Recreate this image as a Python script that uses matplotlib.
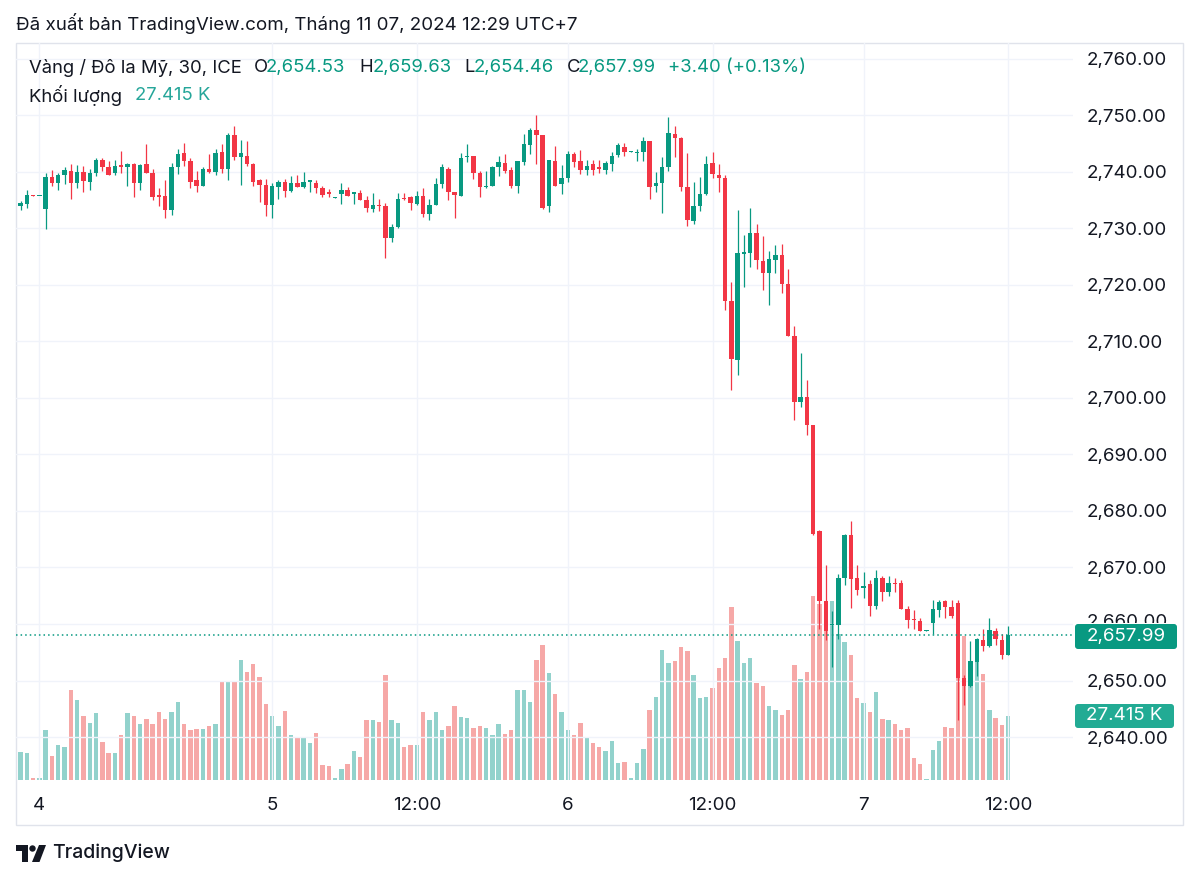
import matplotlib.pyplot as plt
import numpy as np
from matplotlib.patches import FancyBboxPatch, Polygon, Circle, Rectangle
from matplotlib.transforms import Bbox

plt.rcParams['font.family'] = ['Inter', 'DejaVu Sans']

# XAUUSD 30 min bars, index 0 = first bar under the "4" label
bar_idx = np.arange(-4, 155)
opens = [2733.9, 2733.9, 2734.4, 2735.9, 2735.7, 2733.4, 2739.2, 2738.1, 2739.5, 2740.2,
         2738.0, 2740.0, 2738.2, 2739.8, 2742.1, 2740.9, 2739.8, 2741.2, 2740.9, 2741.5,
         2738.1, 2741.4, 2739.9, 2736.0, 2735.8, 2733.3, 2740.9, 2743.3, 2741.9, 2738.6,
         2737.6, 2740.5, 2740.0, 2743.5, 2740.5, 2746.6, 2742.7, 2742.9, 2741.5, 2738.5,
         2737.7, 2734.1, 2737.4, 2738.3, 2736.6, 2738.1, 2737.4, 2738.3, 2738.1, 2737.2,
         2736.5, 2735.4, 2736.1, 2736.8, 2736.1, 2736.3, 2735.1, 2733.5, 2734.2, 2734.0,
         2728.4, 2730.2, 2735.4, 2735.5, 2734.4, 2735.8, 2732.5, 2734.2, 2737.8, 2740.6,
         2736.4, 2735.7, 2742.7, 2742.8, 2739.9, 2737.4, 2737.6, 2740.8, 2741.6, 2740.4,
         2737.6, 2741.8, 2744.7, 2747.4, 2746.5, 2733.9, 2742.0, 2737.8, 2738.9, 2743.2,
         2741.9, 2740.3, 2741.4, 2740.8, 2740.3, 2741.5, 2743.0, 2744.4, 2743.6, 2743.3,
         2743.6, 2745.5, 2737.5, 2738.0, 2740.9, 2746.8, 2746.1, 2737.4, 2731.4, 2734.0,
         2736.1, 2741.6, 2739.4, 2739.0, 2717.1, 2706.8, 2725.5, 2725.6, 2729.2, 2724.3,
         2722.2, 2724.5, 2725.3, 2720.2, 2710.9, 2699.3, 2700.2, 2695.2, 2676.4, 2664.1,
         2659.9, 2659.8, 2668.2, 2675.8, 2668.1, 2666.3, 2667.0, 2663.2, 2668.2, 2665.6,
         2667.3, 2667.3, 2662.6, 2660.9, 2660.5, 2658.8, 2660.1, 2662.4, 2664.0, 2663.0,
         2663.8, 2650.5, 2649.0, 2653.3, 2657.2, 2656.1, 2658.8, 2657.2, 2654.53]
highs = [2734.5, 2734.9, 2736.8, 2735.9, 2735.8, 2739.8, 2740.3, 2739.9, 2740.9, 2741.4,
         2741.2, 2741.1, 2740.5, 2742.4, 2742.5, 2741.9, 2742.1, 2743.7, 2741.6, 2741.6,
         2741.4, 2744.9, 2740.5, 2737.2, 2738.6, 2741.6, 2744.1, 2745.2, 2742.4, 2740.2,
         2740.8, 2743.1, 2744.0, 2744.9, 2746.9, 2748.2, 2745.6, 2745.5, 2741.6, 2738.8,
         2738.7, 2738.0, 2738.5, 2738.7, 2739.3, 2739.4, 2740.0, 2738.6, 2738.6, 2737.6,
         2737.0, 2735.5, 2738.0, 2737.3, 2736.5, 2736.8, 2735.8, 2736.2, 2735.3, 2734.6,
         2730.8, 2736.2, 2736.2, 2735.8, 2736.6, 2737.2, 2735.3, 2739.0, 2741.4, 2740.8,
         2736.4, 2743.3, 2745.0, 2742.9, 2740.2, 2740.2, 2741.1, 2742.9, 2743.1, 2740.8,
         2741.9, 2746.8, 2747.8, 2750.0, 2746.5, 2742.2, 2744.6, 2741.2, 2743.7, 2743.5,
         2743.9, 2742.1, 2742.2, 2742.1, 2741.9, 2743.5, 2745.1, 2745.1, 2743.8, 2744.1,
         2746.2, 2745.5, 2740.0, 2742.7, 2749.7, 2748.2, 2746.2, 2743.4, 2738.2, 2739.2,
         2742.9, 2743.5, 2741.4, 2739.4, 2720.6, 2733.2, 2728.8, 2733.7, 2730.8, 2728.6,
         2726.1, 2727.1, 2727.2, 2722.8, 2712.7, 2708.0, 2703.1, 2695.2, 2676.6, 2670.5,
         2662.3, 2668.8, 2676.0, 2678.3, 2670.5, 2669.2, 2667.8, 2669.5, 2668.5, 2668.5,
         2668.2, 2667.8, 2663.2, 2662.4, 2661.0, 2658.9, 2664.2, 2664.2, 2664.2, 2664.2,
         2664.2, 2651.0, 2657.0, 2657.5, 2659.2, 2661.0, 2659.3, 2658.3, 2659.63]
lows = [2733.6, 2733.3, 2733.6, 2735.8, 2735.7, 2729.9, 2737.6, 2736.8, 2737.8, 2735.2,
        2737.2, 2736.5, 2736.9, 2739.3, 2740.2, 2739.5, 2739.5, 2739.9, 2737.6, 2735.6,
        2736.9, 2739.8, 2735.1, 2733.9, 2731.8, 2732.4, 2739.6, 2741.1, 2737.2, 2736.4,
        2737.6, 2739.8, 2739.4, 2739.8, 2738.6, 2742.1, 2737.7, 2741.1, 2737.6, 2734.7,
        2732.2, 2731.8, 2735.2, 2735.5, 2736.5, 2737.4, 2737.2, 2736.4, 2736.3, 2735.6,
        2735.5, 2735.4, 2734.4, 2735.8, 2734.4, 2735.0, 2732.9, 2732.9, 2733.1, 2724.7,
        2727.6, 2730.1, 2735.1, 2733.3, 2734.2, 2732.1, 2731.5, 2734.1, 2737.1, 2735.1,
        2731.9, 2735.7, 2741.8, 2738.8, 2735.6, 2737.1, 2737.5, 2739.3, 2739.9, 2737.2,
        2736.3, 2741.2, 2743.1, 2741.4, 2733.4, 2732.9, 2737.5, 2736.1, 2738.3, 2740.8,
        2739.6, 2739.4, 2739.5, 2739.9, 2739.6, 2740.1, 2742.6, 2742.9, 2743.6, 2742.0,
        2742.0, 2735.3, 2736.4, 2732.7, 2740.2, 2742.7, 2736.6, 2730.5, 2730.8, 2733.1,
        2735.9, 2739.0, 2736.4, 2715.5, 2701.4, 2704.0, 2719.6, 2723.1, 2722.8, 2719.2,
        2716.4, 2722.1, 2718.6, 2710.9, 2696.1, 2698.4, 2693.4, 2675.8, 2659.2, 2657.1,
        2652.4, 2657.4, 2666.9, 2662.9, 2665.2, 2664.6, 2661.4, 2662.6, 2664.1, 2665.0,
        2665.7, 2662.6, 2659.3, 2659.2, 2658.8, 2658.8, 2658.2, 2661.3, 2661.0, 2661.0,
        2643.0, 2645.7, 2648.8, 2650.8, 2655.3, 2656.0, 2656.3, 2653.8, 2654.46]
closes = [2734.2, 2734.5, 2735.9, 2735.8, 2735.8, 2739.2, 2738.1, 2739.5, 2740.3, 2738.0,
          2740.0, 2738.4, 2739.9, 2742.1, 2740.8, 2739.5, 2741.1, 2740.9, 2741.5, 2738.1,
          2741.2, 2739.8, 2735.6, 2735.6, 2733.3, 2740.9, 2743.1, 2741.9, 2738.2, 2737.6,
          2740.6, 2740.0, 2743.3, 2740.5, 2746.6, 2742.7, 2743.4, 2741.5, 2738.3, 2737.7,
          2734.1, 2737.5, 2738.3, 2736.6, 2738.0, 2737.4, 2738.2, 2738.5, 2737.1, 2735.9,
          2736.1, 2735.5, 2736.8, 2735.8, 2736.4, 2735.1, 2733.6, 2734.2, 2733.9, 2728.4,
          2730.2, 2735.3, 2735.2, 2734.5, 2735.8, 2732.5, 2734.2, 2737.8, 2740.8, 2736.4,
          2736.0, 2742.4, 2742.9, 2739.9, 2737.4, 2737.6, 2740.9, 2741.8, 2740.1, 2737.6,
          2741.9, 2744.9, 2747.5, 2746.5, 2733.7, 2742.1, 2737.6, 2738.9, 2743.1, 2741.8,
          2740.3, 2741.1, 2740.3, 2740.5, 2741.6, 2742.8, 2744.7, 2743.6, 2743.8, 2743.6,
          2745.5, 2737.4, 2738.0, 2740.9, 2746.9, 2746.1, 2737.4, 2731.5, 2734.0, 2736.1,
          2741.5, 2739.6, 2739.0, 2717.1, 2706.9, 2725.6, 2725.8, 2729.2, 2724.5, 2722.2,
          2724.6, 2725.3, 2720.2, 2710.9, 2699.3, 2700.2, 2695.2, 2676.0, 2664.1, 2658.8,
          2660.0, 2668.2, 2675.8, 2667.9, 2666.1, 2666.7, 2663.2, 2668.1, 2665.6, 2667.3,
          2667.0, 2662.6, 2660.7, 2660.7, 2658.8, 2658.9, 2662.6, 2663.9, 2663.0, 2661.4,
          2650.4, 2649.1, 2653.4, 2657.3, 2656.1, 2658.9, 2657.3, 2654.5, 2657.99]
# volume in thousands
volumes = [21.7, 12.0, 11.4, 0.9, 0.9, 21.4, 10.3, 15.0, 14.1, 38.4,
           34.1, 27.3, 24.6, 28.6, 16.4, 11.7, 11.4, 19.4, 28.9, 27.6,
           24.1, 26.3, 23.9, 29.0, 26.3, 29.3, 33.4, 23.9, 21.6, 21.9,
           21.7, 23.1, 23.9, 42.1, 42.1, 42.6, 51.6, 46.3, 49.6, 44.1,
           32.7, 27.6, 23.1, 29.4, 19.3, 18.1, 17.9, 16.0, 20.0, 6.3,
           5.9, 0.7, 4.9, 6.9, 12.3, 9.9, 25.9, 25.9, 24.9, 45.1,
           25.9, 24.6, 14.0, 14.9, 15.0, 29.1, 25.6, 29.1, 21.3, 23.1,
           31.9, 26.9, 26.4, 22.1, 23.1, 22.4, 19.4, 24.1, 19.6, 21.3,
           38.4, 38.7, 33.6, 51.3, 57.7, 45.7, 37.0, 29.1, 21.4, 19.1,
           24.4, 18.3, 15.7, 14.3, 12.6, 16.6, 7.3, 7.9, 0.7, 7.1,
           13.3, 29.9, 35.7, 55.9, 50.3, 50.9, 57.0, 55.3, 45.0, 35.0,
           35.6, 39.3, 47.9, 52.4, 74.3, 59.6, 50.3, 52.1, 41.4, 40.3,
           31.6, 29.9, 27.7, 29.9, 49.3, 43.1, 46.1, 78.7, 75.3, 72.8,
           76.7, 62.4, 59.3, 53.4, 35.0, 33.0, 29.0, 37.7, 26.0, 25.6,
           23.9, 21.4, 22.4, 9.6, 6.7, 0.6, 12.7, 16.7, 22.9, 22.1,
           74.9, 61.7, 42.0, 60.0, 45.6, 29.9, 26.4, 23.6, 27.415]

tick_pos = [0, 37, 60, 84, 107, 131, 154]
tick_labels = ['4', '5', '12:00', '6', '12:00', '7', '12:00']
price_ticks = np.arange(2640, 2761, 10)

title = 'Đã xuất bản TradingView.com, Tháng 11 07, 2024 12:29 UTC+7'
symbol = 'Vàng / Đô la Mỹ, 30, ICE'
ohlc_names = ['O', 'H', 'L', 'C']
ohlc_values = ['2,654.53', '2,659.63', '2,654.46', '2,657.99']
change_text = '+3.40 (+0.13%)'
last_close = 2657.99
last_volume = '27.415 K'

UP, DOWN = '#089981', '#f23645'
VUP, VDOWN = '#26a69a', '#ef5350'
DARK = '#131722'
W, H = 1200, 881
FS = 13.3

o = np.array(opens)
c = np.array(closes)
up = c >= o

fig = plt.figure(figsize=(W / 100, H / 100), dpi=100)
inch = fig.dpi_scale_trans


def P(x, y):
    # pixel position (from top-left) -> inches for dpi_scale_trans
    return x / 100, (H - y) / 100


ax = fig.add_axes([16 / W, 1 - 780 / H, (1073 - 16) / W, (780 - 43) / H])
vax = ax.twinx()
ax.set_zorder(2)
vax.set_zorder(1)
ax.patch.set_visible(False)

ax.set_xlim(-3.72, 164.3)
ax.set_ylim(2632.39, 2762.83)
vax.set_ylim(0, 737 / 2.334)

# volume
vax.bar(bar_idx, volumes, width=0.7, color=np.where(up, VUP, VDOWN), alpha=0.5, lw=0)

# candles
cols = np.where(up, UP, DOWN)
ax.vlines(bar_idx, lows, highs, colors=cols, lw=0.9, zorder=3)
ax.bar(bar_idx, np.maximum(np.abs(c - o), 0.15), bottom=np.minimum(o, c),
       width=0.7, color=cols, lw=0, zorder=4)

ax.axhline(last_close, color=UP, lw=1.1, ls=(0, (1, 2)), zorder=5)

ax.set_yticks(price_ticks)
# the 2,660 label sits under the last-price box, drawn separately below
ax.set_yticklabels(['' if p == 2660 else f'{p:,.2f}' for p in price_ticks])
ax.set_xticks(tick_pos)
ax.set_xticklabels(tick_labels)
ax.yaxis.tick_right()
ax.tick_params(axis='y', length=0, pad=10, labelsize=13.5, labelcolor=DARK)
ax.tick_params(axis='x', length=0, pad=12, labelsize=13.5, labelcolor=DARK)
ax.grid(True, color='#f0f3fa', lw=1)
ax.set_axisbelow(True)
vax.yaxis.set_visible(False)
for a in (ax, vax):
    for s in a.spines.values():
        s.set_visible(False)

# chart frame
fig.patches.append(Rectangle(P(16, 825), 1167 / 100, 782 / 100, fill=False,
                             ec='#e0e3eb', lw=1, transform=inch))

# top sliver of the 2,660.00 label peeking above the price box
peek = fig.text(*P(1087, 623), '2,660.00', transform=inch, va='center', fontsize=13.5,
                color=DARK, zorder=4)
peek.set_clip_box(inch.transform_bbox(
    Bbox.from_extents(10.8, (H - 623) / 100, 11.8, (H - 612) / 100)))


def label_box(x0, y0, x1, y1, color, text):
    fig.patches.append(FancyBboxPatch(P(x0, y1), (x1 - x0) / 100, (y1 - y0) / 100,
                                      boxstyle='round,pad=0,rounding_size=0.03',
                                      fc=color, ec='none', transform=inch, zorder=5))
    fig.text(*P((x0 + x1) / 2, (y0 + y1) / 2), text, transform=inch, ha='center',
             va='center', color='white', fontsize=13.5, zorder=6)


label_box(1075, 624, 1177, 649, UP, f'{last_close:,.2f}')
label_box(1075, 704, 1174, 728, '#22ab94', last_volume)

# header
fig.text(*P(16, 24), title, transform=inch, va='center', fontsize=13.5, color=DARK)
fig.text(*P(29, 68), symbol, transform=inch, va='center', fontsize=FS, color=DARK)
name_x = [253.7, 359.8, 464.4, 566.4]
val_x = [266, 372.4, 473.3, 578]
for n, v, nx, vx in zip(ohlc_names, ohlc_values, name_x, val_x):
    fig.text(*P(nx, 68), n, transform=inch, va='center', fontsize=FS, color=DARK)
    fig.text(*P(vx, 68), v, transform=inch, va='center', fontsize=FS, color=UP)
fig.text(*P(668.4, 68), change_text, transform=inch, va='center', fontsize=FS, color=UP)
fig.text(*P(29, 95), 'Khối lượng', transform=inch, va='center', fontsize=FS, color=DARK)
fig.text(*P(135, 95), last_volume, transform=inch, va='center', fontsize=FS, color=VUP)

# TradingView logo
fig.patches.append(Polygon([P(16, 845), P(28, 845), P(28, 862), P(22, 862), P(22, 851), P(16, 851)],
                           closed=True, fc=DARK, ec='none', transform=inch))
fig.patches.append(Circle(P(32.5, 848.5), 0.032, fc=DARK, ec='none', transform=inch))
fig.patches.append(Polygon([P(39, 845), P(46, 845), P(39.5, 862), P(32, 862)],
                           closed=True, fc=DARK, ec='none', transform=inch))
fig.text(*P(52, 853), 'TradingView', transform=inch, va='center', fontsize=14,
         color=DARK, fontweight='medium')

fig.savefig('out.png', dpi=100, facecolor='white')
